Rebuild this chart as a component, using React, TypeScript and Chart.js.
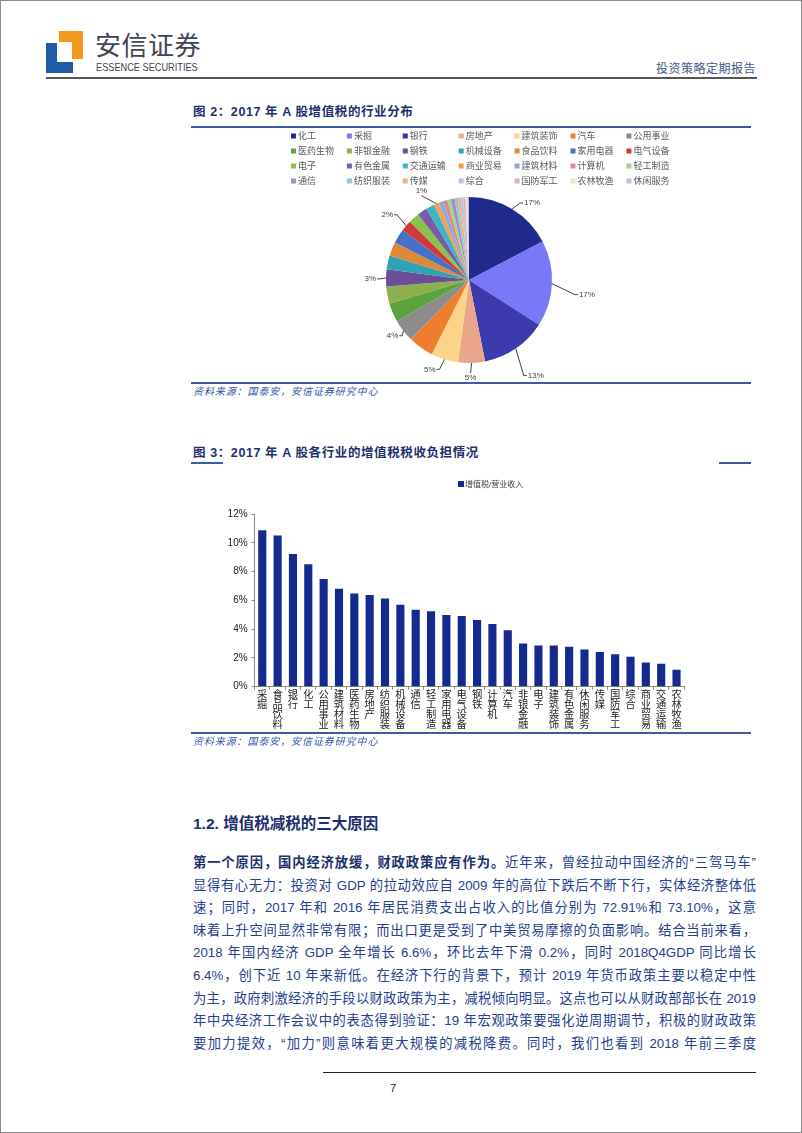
import React, { useEffect, useRef } from "react";
import { Chart, registerables } from "chart.js";

Chart.register(...registerables);

// ---------- Figure 2 data (pie) ----------
const pieIndustries = [
  "化工", "采掘", "银行", "房地产", "建筑装饰", "汽车", "公用事业",
  "医药生物", "非银金融", "钢铁", "机械设备", "食品饮料", "家用电器", "电气设备",
  "电子", "有色金属", "交通运输", "商业贸易", "建筑材料", "计算机", "轻工制造",
  "通信", "纺织服装", "传媒", "综合", "国防军工", "农林牧渔", "休闲服务",
];
const pieShares = [
  17.3, 16.7, 12.8, 5.2, 5.3, 4.9, 4.4,
  3.7, 3.3, 3.3, 2.7, 2.7, 2.8, 2.1,
  2.1, 1.9, 1.7, 1.0, 0.9, 0.8, 0.7,
  0.7, 0.6, 0.6, 0.5, 0.4, 0.4, 0.3,
];
const pieColors = [
  "#1E2A8C", "#7878F8", "#3B3BAE", "#E9A68A", "#FBD48A", "#EE7E2D", "#8C8C8C",
  "#5BA33B", "#8DB04E", "#6B4E97", "#2EA3B7", "#E0883A", "#4472C4", "#D0393B",
  "#8BC34A", "#7A5BA6", "#3DB5C8", "#F59E4C", "#8EA9DB", "#D98C8C", "#A9D18E",
  "#9D8EC4", "#8FC9D4", "#F4B183", "#B4C7E7", "#E6AFAF", "#E2EAC5", "#C6BFE0",
];
const pieLabelledSlices = [0, 1, 2, 3, 4, 6, 9, 13, 17];

// ---------- Figure 3 data (bar) ----------
const barIndustries = [
  "采掘", "食品饮料", "银行", "化工", "公用事业", "建筑材料", "医药生物",
  "房地产", "纺织服装", "机械设备", "通信", "轻工制造", "家用电器", "电气设备",
  "钢铁", "计算机", "汽车", "非银金融", "电子", "建筑装饰", "有色金属",
  "休闲服务", "传媒", "国防军工", "综合", "商业贸易", "交通运输", "农林牧渔",
];
const barRatios = [
  10.87, 10.5, 9.22, 8.5, 7.48, 6.8, 6.47,
  6.38, 6.13, 5.69, 5.34, 5.25, 4.99, 4.92,
  4.63, 4.35, 3.93, 3.01, 2.87, 2.87, 2.78,
  2.59, 2.41, 2.25, 2.08, 1.69, 1.6, 1.18,
];
const barSeriesName = "增值税/营业收入";
const yAxisMax = 12;
const yAxisStep = 2;

const LATIN_CJK = '"Liberation Sans", Arial, "Noto Sans CJK SC", sans-serif';
Chart.defaults.font.family = LATIN_CJK;

// legend grid for pie
const gridLegendPlugin = {
  id: "gridLegend",
  afterDraw(chart: any, _a: any, opts: any) {
    const ctx = chart.ctx;
    const labels = chart.data.labels as string[];
    const colors = chart.data.datasets[0].backgroundColor as string[];
    ctx.save();
    ctx.font = `9px ${LATIN_CJK}`;
    ctx.textBaseline = "middle";
    ctx.textAlign = "left";
    labels.forEach((l, i) => {
      const col = i % opts.cols;
      const row = Math.floor(i / opts.cols);
      const x = opts.x + col * opts.colW;
      const y = opts.y + row * opts.rowH;
      ctx.fillStyle = colors[i];
      ctx.fillRect(x, y - 2.5, 5, 5);
      ctx.fillStyle = "#595959";
      ctx.fillText(l, x + 7, y + 0.5);
    });
    ctx.restore();
  },
};

const pieCalloutPlugin = {
  id: "pieCallouts",
  afterDatasetsDraw(chart: any, _a: any, opts: any) {
    const meta = chart.getDatasetMeta(0);
    const values = chart.data.datasets[0].data as number[];
    const ctx = chart.ctx;
    ctx.save();
    ctx.font = `8px ${LATIN_CJK}`;
    ctx.strokeStyle = "#404040";
    ctx.fillStyle = "#404040";
    ctx.lineWidth = 1;
    ctx.textBaseline = "middle";
    opts.items.forEach((it: any) => {
      const arc = meta.data[it.index];
      const p = arc.getProps(["x", "y", "startAngle", "endAngle", "outerRadius"], true);
      const mid = (p.startAngle + p.endAngle) / 2;
      const ex = p.x + Math.cos(mid) * p.outerRadius;
      const ey = p.y + Math.sin(mid) * p.outerRadius;
      const ax = ex + it.dx;
      const ay = ey + it.dy;
      ctx.beginPath();
      ctx.moveTo(ex, ey);
      if (it.align === "left") {
        ctx.lineTo(ax - 4, ay);
        ctx.lineTo(ax - 1, ay);
      } else if (it.align === "right") {
        ctx.lineTo(ax + 4, ay);
        ctx.lineTo(ax + 1, ay);
      } else {
        ctx.lineTo(ax, it.dy > 0 ? ay - 5 : ay + 5);
      }
      ctx.stroke();
      ctx.textAlign = it.align;
      ctx.fillText(Math.round(values[it.index]) + "%", ax, ay);
    });
    ctx.restore();
  },
};

const barLegendPlugin = {
  id: "topLegend",
  afterDraw(chart: any, _a: any, opts: any) {
    const ctx = chart.ctx;
    const ds = chart.data.datasets[0];
    ctx.save();
    ctx.fillStyle = ds.backgroundColor;
    ctx.fillRect(opts.x, opts.y - 3, 6, 6);
    ctx.fillStyle = "#404040";
    ctx.font = `8px ${LATIN_CJK}`;
    ctx.textAlign = "left";
    ctx.textBaseline = "middle";
    ctx.fillText(ds.label, opts.x + 7, opts.y + 0.5);
    ctx.restore();
  },
};

function PieChart() {
  const ref = useRef<HTMLCanvasElement>(null);
  useEffect(() => {
    const offsets: Record<number, [number, number, string]> = {
      0: [12, -6, "left"],
      1: [27, 11, "left"],
      2: [12, 27, "left"],
      3: [-1, 15, "center"],
      4: [-9, 10, "right"],
      6: [-5, 5, "right"],
      9: [-10, 1, "right"],
      13: [-13, -11, "right"],
      17: [-15, -13, "center"],
    };
    const chart = new Chart(ref.current as HTMLCanvasElement, {
      type: "pie",
      data: {
        labels: pieIndustries,
        datasets: [{ data: pieShares, backgroundColor: pieColors, borderWidth: 0 }],
      },
      options: {
        responsive: false,
        animation: false,
        layout: { padding: { left: 195, right: 199, top: 68, bottom: 18 } },
        plugins: {
          legend: { display: false },
          tooltip: { enabled: false },
          gridLegend: { x: 100, y: 7, cols: 7, colW: 55.9, rowH: 15 },
          pieCallouts: {
            items: pieLabelledSlices.map((i) => ({
              index: i,
              dx: offsets[i][0],
              dy: offsets[i][1],
              align: offsets[i][2],
            })),
          },
        } as any,
      },
      plugins: [gridLegendPlugin, pieCalloutPlugin],
    });
    return () => chart.destroy();
  }, []);
  return (
    <canvas
      ref={ref}
      width={560}
      height={252}
      style={{ position: "absolute", left: 190, top: 128, width: 560, height: 252 }}
    />
  );
}

function BarChart() {
  const ref = useRef<HTMLCanvasElement>(null);
  useEffect(() => {
    const chart = new Chart(ref.current as HTMLCanvasElement, {
      type: "bar",
      data: {
        labels: barIndustries.map((s) => s.split("")),
        datasets: [
          {
            label: barSeriesName,
            data: barRatios,
            backgroundColor: "#142A8E",
            barPercentage: 0.53,
            categoryPercentage: 1,
          },
        ],
      },
      options: {
        responsive: false,
        animation: false,
        layout: { padding: { left: 0, right: 66.8, top: 43, bottom: 0 } },
        plugins: {
          legend: { display: false },
          tooltip: { enabled: false },
          topLegend: { x: 267, y: 13 },
        } as any,
        scales: {
          x: {
            grid: {
              display: true,
              drawOnChartArea: false,
              drawTicks: true,
              tickLength: 3,
              color: "#8A8A8A",
              offset: true,
            },
            border: { display: true, color: "#8A8A8A" },
            ticks: {
              color: "#222",
              font: { size: 10.3, lineHeight: 0.95 },
              maxRotation: 0,
              minRotation: 0,
              autoSkip: false,
              padding: 1,
            },
            afterFit: (s: any) => {
              s.height = 46.3;
            },
          },
          y: {
            min: 0,
            max: yAxisMax,
            ticks: {
              stepSize: yAxisStep,
              callback: (v: any) => v + "%",
              color: "#222",
              font: { size: 10 },
              padding: 4,
            },
            grid: { drawOnChartArea: false, tickLength: 3, color: "#8A8A8A" },
            border: { display: true, color: "#8A8A8A" },
            afterFit: (s: any) => {
              s.width = 63.6;
            },
          },
        },
      },
      plugins: [barLegendPlugin],
    });
    return () => chart.destroy();
  }, []);
  return (
    <canvas
      ref={ref}
      width={560}
      height={262}
      style={{ position: "absolute", left: 190, top: 470, width: 560, height: 262 }}
    />
  );
}

const TITLE_COLOR = "#1D2F6E";
const BODY_COLOR = "#26408E";
const SOURCE_COLOR = "#3355A8";
const RULE_BLUE = "#3A5BA8";

const bodyLines: React.ReactNode[] = [
  <>
    <b style={{ color: TITLE_COLOR }}>第一个原因，国内经济放缓，财政政策应有作为。</b>近年来，曾经拉动中国经济的“三驾马车”
  </>,
  "显得有心无力：投资对 GDP 的拉动效应自 2009 年的高位下跌后不断下行，实体经济整体低",
  "速；同时，2017 年和 2016 年居民消费支出占收入的比值分别为 72.91%和 73.10%，这意",
  "味着上升空间显然非常有限；而出口更是受到了中美贸易摩擦的负面影响。结合当前来看，",
  "2018 年国内经济 GDP 全年增长 6.6%，环比去年下滑 0.2%，同时 2018Q4GDP 同比增长",
  "6.4%，创下近 10 年来新低。在经济下行的背景下，预计 2019 年货币政策主要以稳定中性",
  "为主，政府刺激经济的手段以财政政策为主，减税倾向明显。这点也可以从财政部部长在 2019",
  "年中央经济工作会议中的表态得到验证：19 年宏观政策要强化逆周期调节，积极的财政政策",
  "要加力提效，“加力”则意味着更大规模的减税降费。同时，我们也看到 2018 年前三季度",
];

const abs = (l: number, t: number, extra: React.CSSProperties = {}): React.CSSProperties => ({
  position: "absolute",
  left: l,
  top: t,
  ...extra,
});

export default function App() {
  return (
    <div
      style={{
        position: "absolute",
        left: 0,
        top: 0,
        width: 802,
        height: 1133,
        background: "#fff",
        boxSizing: "border-box",
        border: "1px solid #8c8c8c",
        fontFamily: LATIN_CJK,
        overflow: "hidden",
      }}
    >
      {/* logo */}
      <div style={abs(58, 30, { width: 24, height: 11, background: "#F39A1E" })} />
      <div style={abs(71, 30, { width: 11, height: 28, background: "#F39A1E" })} />
      <div style={abs(45, 42, { width: 11, height: 30, background: "#1F5CA8" })} />
      <div style={abs(45, 61, { width: 27, height: 11, background: "#1F5CA8" })} />
      <div style={abs(94, 29, { fontSize: 26, color: "#3E4652", lineHeight: "32px", letterSpacing: 0.5 })}>安信证券</div>
      <div
        style={abs(95, 60, {
          fontSize: 11.5,
          color: "#3E4652",
          lineHeight: "13px",
          whiteSpace: "nowrap",
          transform: "scaleX(0.8)",
          transformOrigin: "0 0",
        })}
      >
        ESSENCE SECURITIES
      </div>
      <div style={abs(655, 61, { fontSize: 12, color: "#3F5A8A", lineHeight: "15px", letterSpacing: 0.5 })}>
        投资策略定期报告
      </div>
      <div style={abs(45, 76, { width: 711, height: 2, background: "#555" })} />

      {/* figure 2 */}
      <div style={abs(192, 103, { fontSize: 12.5, fontWeight: "bold", color: TITLE_COLOR, lineHeight: "16px", letterSpacing: 0.6, whiteSpace: "nowrap" })}>
        图 2：2017 年 A 股增值税的行业分布
      </div>
      <div style={abs(190, 125, { width: 560, height: 2, background: RULE_BLUE })} />
      <PieChart />
      <div style={abs(190, 381, { width: 560, height: 2, background: RULE_BLUE })} />
      <div style={abs(192, 384, { fontSize: 10, fontStyle: "italic", color: SOURCE_COLOR, lineHeight: "14px", letterSpacing: 0.9 })}>
        资料来源：国泰安，安信证券研究中心
      </div>

      {/* figure 3 */}
      <div style={abs(192, 444, { fontSize: 12.5, fontWeight: "bold", color: TITLE_COLOR, lineHeight: "16px", letterSpacing: 0.6, whiteSpace: "nowrap" })}>
        图 3：2017 年 A 股各行业的增值税税收负担情况
      </div>
      <div style={abs(190, 461, { width: 32, height: 2, background: RULE_BLUE })} />
      <div style={abs(718, 461, { width: 32, height: 2, background: RULE_BLUE })} />
      <BarChart />
      <div style={abs(190, 731, { width: 560, height: 2, background: RULE_BLUE })} />
      <div style={abs(192, 734, { fontSize: 10, fontStyle: "italic", color: SOURCE_COLOR, lineHeight: "14px", letterSpacing: 0.9 })}>
        资料来源：国泰安，安信证券研究中心
      </div>

      {/* section heading */}
      <div style={abs(192, 813, { fontSize: 15.5, fontWeight: "bold", color: TITLE_COLOR, lineHeight: "20px", letterSpacing: 0, whiteSpace: "nowrap" })}>
        1.2. 增值税减税的三大原因
      </div>

      {/* body text */}
      {bodyLines.map((line, i) => (
        <div
          key={i}
          style={abs(192, 851 + i * 22.6, {
            width: 563,
            fontSize: 13.3,
            lineHeight: "22px",
            color: BODY_COLOR,
            textAlign: "justify",
            textAlignLast: "justify",
            whiteSpace: "nowrap",
          })}
        >
          {line}
        </div>
      ))}

      {/* footer */}
      <div style={abs(322, 1071, { width: 433, height: 1, background: "#222" })} />
      <div style={abs(389, 1080, { fontSize: 11, color: "#222", lineHeight: "14px" })}>7</div>
    </div>
  );
}
